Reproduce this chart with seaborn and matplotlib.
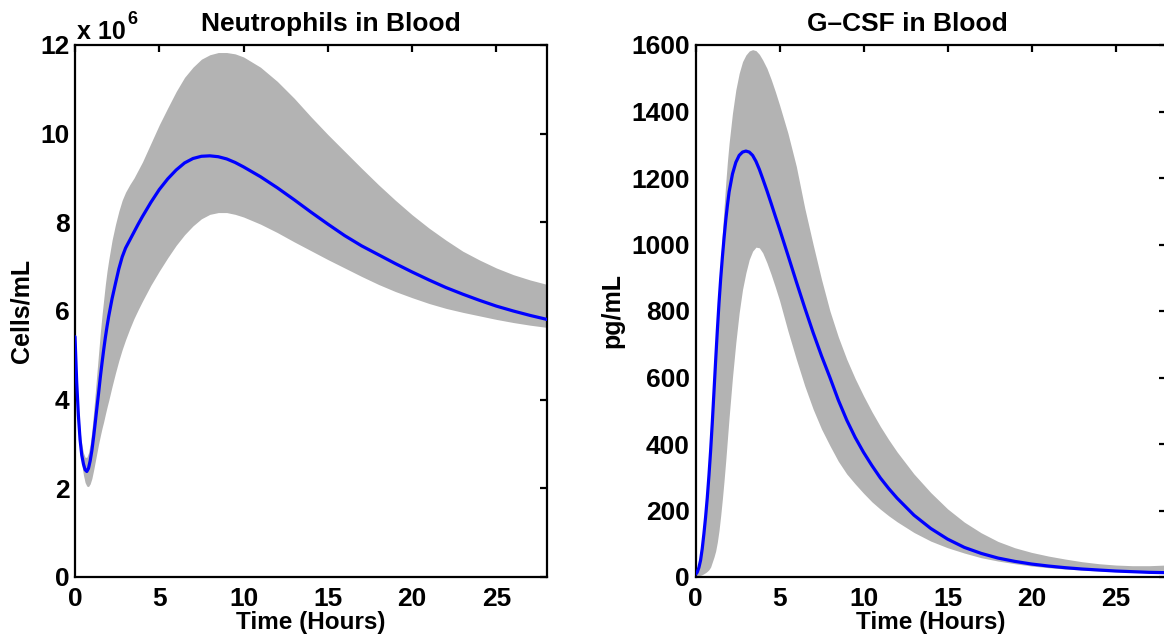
import numpy as np
import pandas as pd
import matplotlib
matplotlib.use("Agg")
import matplotlib.pyplot as plt
import seaborn as sns

# ---------------- data ----------------
# Neutrophils in blood (x 10^6 cells/mL)
neu_t = [0, 0.1, 0.2, 0.3, 0.4, 0.5, 0.6, 0.7, 0.8, 0.9, 1.0, 1.1, 1.2, 1.3, 1.4, 1.5,
         1.6, 1.7, 1.8, 1.9, 2.0, 2.2, 2.4, 2.6, 2.8, 3.0, 3.25, 3.5, 3.75, 4.0, 4.5,
         5.0, 5.5, 6.0, 6.5, 7.0, 7.5, 8.0, 8.5, 9.0, 9.5, 10, 11, 12, 13, 14, 15, 16,
         17, 18, 19, 20, 21, 22, 23, 24, 25, 26, 27, 28]
neu_mean = [5.42, 4.4, 3.65, 3.1, 2.75, 2.55, 2.42, 2.38, 2.45, 2.62, 2.85, 3.15, 3.48,
            3.82, 4.15, 4.5, 4.82, 5.12, 5.4, 5.65, 5.88, 6.28, 6.62, 6.95, 7.22, 7.42,
            7.6, 7.78, 7.96, 8.13, 8.45, 8.74, 8.98, 9.18, 9.34, 9.44, 9.49, 9.5, 9.48,
            9.43, 9.35, 9.25, 9.03, 8.78, 8.51, 8.23, 7.96, 7.7, 7.47, 7.27, 7.07, 6.88,
            6.7, 6.53, 6.38, 6.24, 6.11, 6.0, 5.9, 5.81]
neu_upper = [5.42, 4.5, 3.8, 3.3, 3.0, 2.8, 2.7, 2.7, 2.8, 3.0, 3.3, 3.7, 4.15, 4.6,
             5.05, 5.5, 5.9, 6.25, 6.6, 6.9, 7.15, 7.6, 7.95, 8.25, 8.5, 8.68, 8.85,
             9.0, 9.18, 9.36, 9.78, 10.2, 10.58, 10.95, 11.27, 11.5, 11.68, 11.78, 11.83,
             11.83, 11.8, 11.73, 11.5, 11.18, 10.8, 10.38, 9.98, 9.6, 9.22, 8.85, 8.5,
             8.17, 7.87, 7.6, 7.35, 7.15, 6.97, 6.82, 6.7, 6.6]
neu_lower = [5.42, 4.3, 3.5, 2.95, 2.55, 2.3, 2.13, 2.05, 2.04, 2.1, 2.22, 2.4, 2.6, 2.8,
             3.0, 3.18, 3.35, 3.5, 3.67, 3.83, 3.98, 4.3, 4.6, 4.88, 5.13, 5.35, 5.6,
             5.83, 6.03, 6.22, 6.58, 6.9, 7.2, 7.48, 7.72, 7.92, 8.08, 8.18, 8.22, 8.22,
             8.18, 8.12, 7.96, 7.77, 7.56, 7.36, 7.16, 6.97, 6.78, 6.6, 6.44, 6.3, 6.17,
             6.06, 5.97, 5.89, 5.81, 5.74, 5.68, 5.63]

# G-CSF in blood (pg/mL)
gcsf_t = [0, 0.1, 0.2, 0.3, 0.4, 0.5, 0.6, 0.7, 0.8, 0.9, 1.0, 1.1, 1.2, 1.3, 1.4, 1.5,
          1.6, 1.7, 1.8, 1.9, 2.0, 2.2, 2.4, 2.6, 2.8, 3.0, 3.2, 3.4, 3.6, 3.8, 4.0,
          4.25, 4.5, 4.75, 5.0, 5.5, 6.0, 6.5, 7.0, 7.5, 8.0, 8.5, 9.0, 9.5, 10, 10.5,
          11, 11.5, 12, 13, 14, 15, 16, 17, 18, 19, 20, 21, 22, 23, 24, 25, 26, 27, 28]
gcsf_mean = [8, 14, 28, 50, 85, 130, 180, 238, 305, 380, 465, 558, 652, 742, 825, 898,
             962, 1020, 1073, 1118, 1158, 1212, 1247, 1268, 1278, 1281, 1278, 1268, 1250,
             1226, 1198, 1162, 1124, 1085, 1047, 968, 888, 810, 735, 665, 600, 532, 472,
             420, 375, 335, 298, 266, 237, 186, 146, 114, 89, 71, 57, 47, 39, 33, 28, 24,
             21, 18, 16, 14, 13]
gcsf_upper = [8, 14, 28, 50, 85, 132, 185, 242, 310, 388, 475, 570, 668, 765, 860, 950,
              1035, 1112, 1185, 1250, 1305, 1395, 1465, 1515, 1550, 1570, 1582, 1586,
              1583, 1572, 1555, 1530, 1497, 1460, 1420, 1335, 1235, 1110, 1000, 895, 800,
              722, 655, 597, 545, 497, 453, 413, 376, 310, 254, 205, 165, 133, 107, 88, 74,
              63, 54, 46, 40, 36, 34, 34, 36]
gcsf_lower = [2, 3, 4, 5, 7, 10, 13, 17, 22, 30, 45, 60, 78, 105, 140, 185, 235, 290, 350,
              415, 480, 600, 705, 795, 865, 915, 955, 980, 992, 990, 975, 945, 910, 872,
              832, 740, 655, 575, 505, 445, 395, 348, 310, 280, 252, 226, 204, 184, 166,
              134, 108, 88, 72, 58, 48, 40, 33, 28, 24, 21, 18, 16, 14, 13, 12]

panels = [
    dict(t=neu_t, m=neu_mean, lo=neu_lower, hi=neu_upper, title="Neutrophils in Blood",
         title_x=0.542, ylabel="Cells/mL", yticks=[0, 2, 4, 6, 8, 10, 12], ylim=(0, 12)),
    dict(t=gcsf_t, m=gcsf_mean, lo=gcsf_lower, hi=gcsf_upper, title="G\u2013CSF in Blood",
         title_x=0.4495, ylabel="pg/mL", yticks=[0, 200, 400, 600, 800, 1000, 1200, 1400, 1600],
         ylim=(0, 1600)),
]
xticks = [0, 5, 10, 15, 20, 25]

# ---------------- style ----------------
sns.set_style("white")
plt.rcParams["font.family"] = ["Liberation Sans", "DejaVu Sans"]
plt.rcParams["font.weight"] = "bold"
plt.rcParams["axes.labelweight"] = "bold"
plt.rcParams["axes.titleweight"] = "bold"
for k in ["text.color", "axes.labelcolor", "xtick.color", "ytick.color", "axes.edgecolor"]:
    plt.rcParams[k] = "black"

W, H = 1164, 639
fig = plt.figure(figsize=(W / 100, H / 100), dpi=100)

positions = [
    [75 / W, 1 - 577 / H, (547 - 75) / W, 532 / H],
    [695.5 / W, 1 - 577 / H, (1166 - 695.5) / W, 532 / H],
]

for p, pos in zip(panels, positions):
    ax = fig.add_axes(pos)
    ax.fill_between(p["t"], p["lo"], p["hi"], color="#b3b3b3", linewidth=0, zorder=1)
    df = pd.DataFrame({"t": p["t"], "v": p["m"]})
    sns.lineplot(data=df, x="t", y="v", ax=ax, color="#0000ff", linewidth=2.3, zorder=3)
    ax.set_xlim(0, 28)
    ax.set_ylim(*p["ylim"])
    ax.set_xticks(xticks)
    ax.set_yticks(p["yticks"])
    ax.tick_params(direction="in", length=5, width=1.6, top=True, right=True,
                   labelsize=19, pad=4, colors="black")
    ax.tick_params(axis="x", pad=7)
    for lab in ax.get_xticklabels() + ax.get_yticklabels():
        lab.set_fontweight("bold")
    for s in ax.spines.values():
        s.set_linewidth(1.6)
        s.set_color("black")
        s.set_visible(True)
    ax.set_title(p["title"], fontsize=19, fontweight="bold", pad=10, x=p["title_x"])
    ax.set_xlabel("Time (Hours)", fontsize=17.5, fontweight="bold", labelpad=0)
    ax.set_ylabel(p["ylabel"], fontsize=18, fontweight="bold", labelpad=5)
    ax.grid(False)

# exponent label for the neutrophil panel
ax0 = fig.axes[0]
ax0.text(0.004, 1.011, "x 10", transform=ax0.transAxes, fontsize=18, fontweight="bold",
         ha="left", va="baseline")
ax0.text(0.112, 1.032, "6", transform=ax0.transAxes, fontsize=13, fontweight="bold",
         ha="left", va="bottom")

fig.savefig("out.png", dpi=100)
